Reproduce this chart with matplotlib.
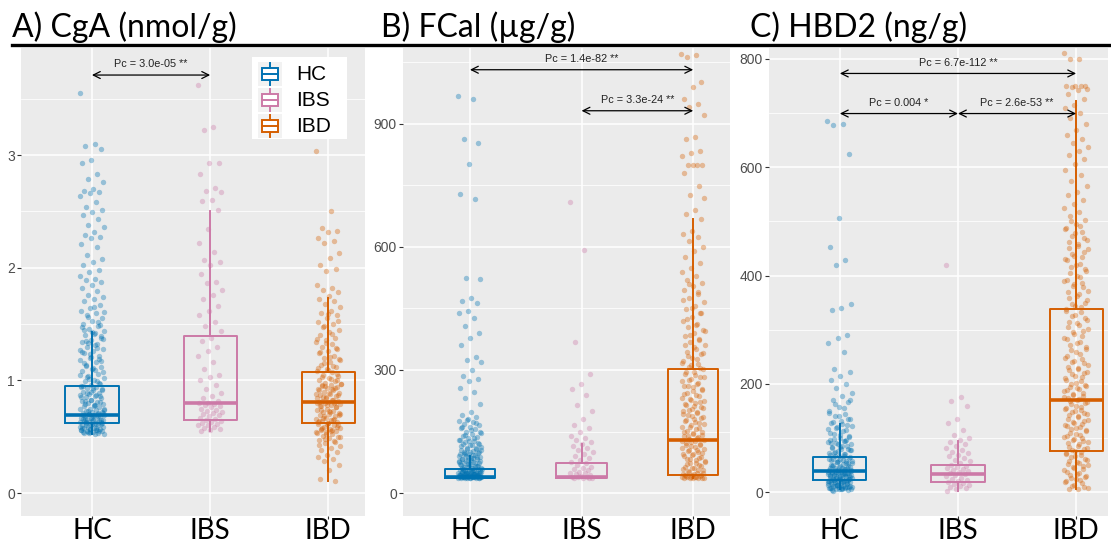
import numpy as np
import matplotlib
matplotlib.use("Agg")
import matplotlib.pyplot as plt
from matplotlib.patches import Rectangle
from matplotlib.lines import Line2D

groups = ["HC", "IBS", "IBD"]
colors = {"HC": "#0072B2", "IBS": "#CC79A7", "IBD": "#D55E00"}

# ---- A) CgA (nmol/g) ----
cga_hc = [3.55, 3.10, 3.08, 3.05, 2.96, 2.93, 2.83, 2.79, 2.76, 2.70, 2.68, 2.67, 2.66, 2.64,
          2.58, 2.54, 2.51, 2.49, 2.47, 2.43, 2.38, 2.36, 2.32, 2.29, 2.27, 2.26, 2.21, 2.18,
          2.11, 2.08, 2.05, 2.02, 1.98, 1.96, 1.93, 1.90, 1.89, 1.87, 1.85, 1.82, 1.79, 1.76,
          1.74, 1.72, 1.70, 1.67, 1.64, 1.62, 1.60, 1.58, 1.55, 1.53, 1.50, 1.48, 1.46, 1.44,
          1.42, 1.40, 1.38, 1.36, 1.34, 1.32, 1.30, 1.28, 1.26, 1.24, 1.22, 1.20, 1.18, 1.16,
          1.14, 1.12, 1.10, 1.08, 1.06, 1.04, 1.02, 1.00, 0.99, 0.97, 0.96, 0.95, 0.94, 0.93,
          0.92, 0.91, 0.90, 0.89, 0.88, 0.87, 0.86, 0.85, 0.84, 0.83, 0.82, 0.81, 0.80, 0.79,
          0.78, 0.77, 0.76, 0.75, 0.75, 0.74, 0.73, 0.72, 0.72, 0.71, 0.70, 0.70, 0.69, 0.69,
          0.68, 0.68, 0.67, 0.67, 0.66, 0.66, 0.65, 0.65, 0.64, 0.64, 0.63, 0.63, 0.62, 0.62,
          0.61, 0.61, 0.60, 0.60, 0.59, 0.59, 0.58, 0.58, 0.57, 0.57, 0.56, 0.56, 0.55, 0.55,
          0.54, 0.54, 0.53, 0.53, 0.52, 0.52, 0.66, 0.63, 0.60, 0.58, 0.56, 0.54, 0.71, 0.68,
          0.53, 0.55, 0.57, 0.59, 0.61, 0.63, 0.65, 0.67, 0.69, 0.71, 0.73, 0.75, 0.77, 0.79,
          0.81, 0.83, 0.85, 0.87, 0.89, 0.91, 0.93, 0.95, 0.98, 1.01, 1.05, 1.09, 1.13, 1.17,
          1.21, 1.25, 1.29, 1.33, 1.37, 1.41, 1.45, 1.49, 0.54, 0.56, 0.58, 0.60, 0.62, 0.64,
          0.66, 0.68, 0.70, 0.74, 0.78, 0.82, 0.86, 0.90, 0.94, 0.99, 1.03, 1.07, 1.11, 1.15,
          1.19, 1.23, 1.27, 1.31, 1.35, 1.39, 1.43, 1.47, 1.52, 1.56, 1.61, 1.65]
cga_ibs = [3.62, 3.25, 3.22, 2.93, 2.93, 2.83, 2.71, 2.68, 2.67, 2.60, 2.59, 2.51, 2.34, 2.22,
           2.14, 2.07, 2.05, 2.02, 1.94, 1.87, 1.86, 1.80, 1.76, 1.72, 1.66, 1.62, 1.58, 1.52,
           1.48, 1.44, 1.38, 1.35, 1.30, 1.26, 1.22, 1.16, 1.10, 1.05, 1.03, 1.00, 0.96, 0.92,
           0.89, 0.86, 0.84, 0.82, 0.80, 0.80, 0.79, 0.78, 0.77, 0.76, 0.75, 0.74, 0.73, 0.72,
           0.71, 0.70, 0.69, 0.68, 0.67, 0.66, 0.65, 0.64, 0.63, 0.62, 0.61, 0.60, 0.60, 0.59,
           0.58, 0.57, 0.56, 0.55]
cga_ibd = [3.04, 2.50, 2.35, 2.33, 2.32, 2.26, 2.24, 2.22, 2.13, 2.09, 2.02, 1.99, 1.97, 1.85,
           1.82, 1.80, 1.78, 1.75, 1.72, 1.70, 1.68, 1.65, 1.62, 1.60, 1.58, 1.55, 1.52, 1.50,
           1.48, 1.45, 1.43, 1.40, 1.38, 1.36, 1.34, 1.32, 1.30, 1.28, 1.26, 1.24, 1.22, 1.20,
           1.18, 1.16, 1.14, 1.12, 1.10, 1.08, 1.07, 1.05, 1.04, 1.02, 1.00, 0.99, 0.98, 0.97,
           0.96, 0.95, 0.94, 0.93, 0.92, 0.91, 0.90, 0.89, 0.88, 0.87, 0.86, 0.85, 0.84, 0.83,
           0.82, 0.82, 0.81, 0.81, 0.80, 0.80, 0.79, 0.78, 0.77, 0.76, 0.75, 0.74, 0.73, 0.72,
           0.71, 0.70, 0.69, 0.68, 0.67, 0.66, 0.65, 0.64, 0.63, 0.62, 0.61, 0.60, 0.59, 0.58,
           0.57, 0.56, 0.55, 0.54, 0.53, 0.52, 0.51, 0.50, 0.49, 0.47, 0.45, 0.44, 0.42, 0.40,
           0.38, 0.36, 0.34, 0.32, 0.30, 0.28, 0.25, 0.20, 0.12, 0.11,
           0.52, 0.54, 0.56, 0.58, 0.60, 0.62, 0.64, 0.66, 0.68, 0.70, 0.72, 0.74, 0.76, 0.78,
           0.80, 0.83, 0.85, 0.87, 0.89, 0.91, 0.93, 0.95, 0.97, 1.01, 1.03, 1.06, 1.09, 1.11,
           1.13, 1.15, 1.19, 1.21, 1.25, 1.29, 1.33, 1.37, 1.41, 1.47, 1.53, 1.59, 0.43, 0.46,
           0.48, 0.50, 0.55, 0.57, 0.59, 0.61, 0.63, 0.65, 0.67, 0.69, 0.73, 0.77, 0.81, 0.84,
           0.88, 0.92, 0.96, 1.00]
# box stats: whislo, q1, med, q3, whishi
cga_box = {"HC": [0.52, 0.62, 0.69, 0.95, 1.43],
           "IBS": [0.55, 0.65, 0.80, 1.39, 2.50],
           "IBD": [0.11, 0.62, 0.81, 1.07, 1.73]}

# ---- B) FCal (ug/g) ----
fcal_hc = [968, 961, 863, 853, 802, 729, 717, 524, 521, 476, 468, 463, 444, 440, 427, 407, 390,
           378, 361, 332, 324, 320, 300, 285, 278, 274, 256, 246, 231, 217, 198, 190, 185, 180,
           175, 172, 168, 165, 160, 158, 155, 150, 147, 144, 140, 136, 133, 130, 127, 124, 120,
           117, 114, 111, 108, 105, 102, 100, 98, 96, 94, 92, 90, 88, 86, 84, 82, 80, 78, 76,
           74, 72, 70, 68, 66, 64, 62, 60, 59, 58, 57, 56, 55, 54, 53, 52, 51, 50, 49, 48, 47,
           46, 45, 44, 43, 42, 41, 40, 40, 39, 39, 38, 38, 38, 37, 37, 37, 37, 37, 37, 38, 39,
           40, 41, 42, 44, 46, 48, 50, 55, 60, 65, 70, 75, 85, 95,
           37, 37, 38, 38, 39, 40, 41, 42, 43, 44, 45, 46, 47, 48, 50, 52, 54, 56, 58, 61, 63,
           67, 69, 71, 73, 77, 79, 81, 83, 87, 89, 91, 93, 97, 99, 101, 104, 107, 110, 113, 116,
           119, 122, 126, 129, 135, 142, 148, 153, 162, 170, 178, 37, 38, 39, 41, 43, 45, 47,
           49, 51, 53, 57]
fcal_ibs = [710, 593, 368, 290, 265, 253, 240, 215, 200, 180, 165, 158, 150, 140, 135, 130, 125,
            120, 115, 110, 105, 100, 95, 90, 85, 80, 76, 72, 68, 64, 60, 58, 55, 52, 50, 48, 46,
            44, 42, 40, 39, 38, 37, 37, 37, 37]
fcal_ibd = [1071, 1068, 1063, 1002, 990, 961, 948, 940, 922, 868, 863, 834, 828, 822, 800, 800,
            800, 800, 780, 748, 727, 720, 690, 680, 668, 640, 632, 625, 615, 600, 590, 575, 560,
            548, 540, 530, 520, 512, 505, 495, 485, 475, 465, 455, 448, 440, 430, 420, 412, 405,
            398, 390, 382, 375, 368, 360, 352, 345, 338, 330, 322, 315, 308, 302, 296, 290, 284,
            278, 272, 266, 260, 254, 248, 242, 236, 230, 225, 220, 215, 210, 205, 200, 195, 190,
            185, 180, 175, 170, 165, 160, 156, 152, 148, 144, 140, 136, 132, 129, 126, 122, 118,
            114, 110, 106, 102, 98, 94, 90, 86, 82, 78, 74, 70, 66, 62, 58, 55, 52, 49, 46, 44,
            42, 40, 39, 38, 38, 37, 37, 37, 37, 37, 37,
            40, 41, 43, 45, 47, 50, 53, 56, 60, 64, 68, 72, 76, 80, 84, 88, 92, 96, 100, 104,
            108, 112, 116, 120, 124, 128, 134, 138, 142, 146, 150, 158, 162, 168, 172, 178, 182,
            188, 192, 198, 202, 208, 212, 218, 222, 228, 232, 238, 245, 250, 258, 262, 268, 275,
            282, 288, 295, 305, 312, 318, 326, 335, 342, 355, 362, 372, 385, 395, 410, 425, 438,
            450, 470, 490, 510]
fcal_box = {"HC": [37, 37, 40, 59, 90],
            "IBS": [37, 37, 40, 73, 120],
            "IBD": [37, 44, 129, 302, 668]}

# ---- C) HBD2 (ng/g) ----
hbd2_hc = [686, 680, 677, 625, 507, 453, 428, 419, 348, 340, 336, 290, 284, 276, 258, 227, 222,
           214, 208, 199, 193, 184, 177, 171, 166, 157, 150, 145, 140, 136, 132, 128, 124, 120,
           116, 112, 108, 104, 100, 97, 94, 91, 88, 85, 82, 79, 76, 73, 70, 67, 64, 62, 60, 58,
           56, 54, 52, 50, 48, 46, 44, 42, 40, 39, 38, 37, 36, 35, 34, 33, 32, 31, 30, 29, 28,
           27, 26, 25, 24, 23, 22, 21, 20, 19, 18, 17, 16, 15, 14, 13, 12, 11, 10, 9, 8, 7, 6,
           5, 5, 4, 45, 41, 38, 35, 31, 28, 25, 22, 18, 14, 10, 7,
           3, 4, 6, 8, 9, 11, 12, 14, 15, 17, 18, 20, 21, 23, 24, 26, 27, 29, 30, 32, 33, 35, 36,
           38, 40, 42, 44, 46, 48, 50, 53, 55, 57, 59, 61, 63, 66, 68, 71, 74, 77, 80, 83, 86,
           89, 92, 95, 98, 102, 106, 110, 114, 118, 122, 126, 130, 135, 141, 147, 155, 162, 170,
           5, 7, 10, 13, 16, 19, 22, 25, 28, 31, 34, 37, 41, 45, 49, 54, 58, 62, 67, 72, 78, 84,
           90, 96]
hbd2_ibs = [420, 175, 168, 159, 135, 127, 114, 105, 100, 96, 92, 88, 85, 82, 78, 75, 72, 69, 66,
            63, 60, 57, 54, 51, 49, 47, 45, 43, 41, 39, 37, 35, 33, 31, 29, 27, 25, 23, 21, 19,
            17, 15, 13, 11, 9, 7, 5, 3]
hbd2_ibd = [811, 800, 800, 750, 750, 750, 750, 748, 745, 743, 735, 726, 715, 710, 700, 690, 680,
            668, 660, 652, 645, 638, 630, 622, 615, 605, 595, 585, 575, 565, 555, 548, 540, 532,
            525, 518, 510, 502, 495, 488, 480, 472, 465, 458, 450, 443, 436, 430, 422, 415, 408,
            400, 392, 386, 380, 372, 365, 358, 350, 344, 338, 332, 325, 318, 312, 305, 298, 292,
            285, 278, 272, 265, 258, 252, 245, 240, 235, 230, 225, 220, 215, 210, 205, 200, 196,
            192, 188, 184, 180, 176, 172, 168, 164, 160, 156, 152, 148, 144, 140, 136, 132, 128,
            124, 120, 116, 112, 108, 104, 100, 96, 92, 88, 84, 80, 76, 72, 68, 64, 60, 56, 52,
            48, 44, 40, 36, 32, 28, 24, 20, 16, 12, 8, 5,
            6, 10, 14, 18, 22, 26, 30, 34, 38, 42, 46, 50, 54, 58, 62, 66, 70, 74, 78, 82, 86,
            90, 94, 98, 102, 106, 110, 114, 118, 122, 126, 130, 134, 138, 142, 146, 150, 154,
            158, 162, 166, 170, 174, 178, 182, 186, 190, 194, 198, 202, 208, 212, 218, 222, 228,
            232, 238, 242, 248, 255, 262, 268, 275, 282, 288, 295, 302, 308, 315, 322, 328, 335,
            342, 348, 355, 362, 370, 378, 384, 390, 398, 405, 412, 420, 428, 435, 440, 448, 455,
            462, 470, 478, 485, 492, 500]
hbd2_box = {"HC": [5, 22, 39, 65, 125],
            "IBS": [3, 18, 33, 50, 94],
            "IBD": [5, 76, 171, 339, 723]}

panels = [
    {"title": "A) CgA (nmol/g)", "pts": {"HC": cga_hc, "IBS": cga_ibs, "IBD": cga_ibd},
     "box": cga_box, "ticks": [0, 1, 2, 3], "minor": [0.5, 1.5, 2.5, 3.5],
     "ylim": (-0.204, 3.95), "xmax": 3.31,
     "pvals": [(1, 2, 3.71, "Pc = 3.0e-05 **")]},
    {"title": "B) FCal (\u00b5g/g)", "pts": {"HC": fcal_hc, "IBS": fcal_ibs, "IBD": fcal_ibd},
     "box": fcal_box, "ticks": [0, 300, 600, 900], "minor": [150, 450, 750, 1050],
     "ylim": (-56, 1085), "xmax": 3.33,
     "pvals": [(1, 3, 1032, "Pc = 1.4e-82 **"), (2, 3, 932, "Pc = 3.3e-24 **")]},
    {"title": "C) HBD2 (ng/g)", "pts": {"HC": hbd2_hc, "IBS": hbd2_ibs, "IBD": hbd2_ibd},
     "box": hbd2_box, "ticks": [0, 200, 400, 600, 800], "minor": [100, 300, 500, 700],
     "ylim": (-44, 820), "xmax": 3.27,
     "pvals": [(1, 3, 773, "Pc = 6.7e-112 **"), (1, 2, 699, "Pc = 0.004 *"),
               (2, 3, 699, "Pc = 2.6e-53 **")]},
]

W, H = 1111, 546
fig = plt.figure(figsize=(W / 100, H / 100), dpi=100)

def fx(p):
    return p / W

def fy(p):
    return 1 - p / H

# pixel boxes of the three plotting areas (left, right)
areas = [(21, 365), (403, 730), (769, 1108)]
title_x = [12, 381, 750]
top, bottom = 48, 516

for k, pan in enumerate(panels):
    l, r = areas[k]
    ax = fig.add_axes([fx(l), fy(bottom), (r - l) / W, (bottom - top) / H])
    ax.set_facecolor("#EBEBEB")
    for s in ax.spines.values():
        s.set_visible(False)
    ax.set_xlim(0.4, pan["xmax"])
    ax.set_ylim(*pan["ylim"])
    ax.set_yticks(pan["ticks"])
    ax.set_yticks(pan["minor"], minor=True)
    ax.set_xticks([1, 2, 3])
    ax.set_xticklabels([])
    ax.tick_params(axis="y", which="major", labelsize=10, labelcolor="#4D4D4D",
                   color="#333333", length=3, width=0.8, pad=1.5)
    ax.tick_params(axis="y", which="minor", length=0)
    ax.tick_params(axis="x", length=2, color="#333333", width=0.8)
    for t in ax.get_yticklabels():
        t.set_family("Liberation Sans")
    ax.grid(True, which="major", color="white", lw=1.1, zorder=0)
    ax.grid(True, which="minor", axis="y", color="white", lw=0.55, zorder=0)
    ax.set_axisbelow(True)

    for i, g in enumerate(groups):
        vals = np.array(pan["pts"][g], dtype=float)
        n = len(vals)
        offs = ((np.arange(n) * 0.6180339887) % 1 - 0.5) * 0.21
        ax.scatter(i + 1 + offs, vals, s=15, color=colors[g], alpha=0.36, lw=0, zorder=2)
        wl, q1, md, q3, wh = pan["box"][g]
        st = [{"med": md, "q1": q1, "q3": q3, "whislo": wl, "whishi": wh, "fliers": []}]
        ax.bxp(st, positions=[i + 1], widths=0.45, showcaps=False, showfliers=False,
               boxprops=dict(color=colors[g], lw=1.4),
               whiskerprops=dict(color=colors[g], lw=1.4),
               medianprops=dict(color=colors[g], lw=2.6),
               manage_ticks=False, zorder=3)
        # category label under the panel, baseline placed in pixels
        ax.text(i + 1, 0, g, transform=ax.get_xaxis_transform(), ha="center",
                va="baseline", fontsize=20, family="Lato", color="black")

    yr = pan["ylim"][1] - pan["ylim"][0]
    for a, b, yv, txt in pan["pvals"]:
        ax.annotate("", xy=(b, yv), xytext=(a, yv),
                    arrowprops=dict(arrowstyle="<->,head_length=0.5,head_width=0.25",
                                    lw=0.9, color="black", shrinkA=0, shrinkB=0))
        ax.text((a + b) / 2, yv + yr * 0.012, txt, ha="center", va="bottom",
                fontsize=7.8, family="Liberation Sans", color="#222222")

    fig.text(fx(title_x[k]), fy(37), pan["title"], fontsize=23, family="Lato",
             ha="left", va="baseline", color="black")

# move the category labels to a fixed baseline below the panels
for ax in fig.axes:
    for t in ax.texts:
        if t.get_text() in groups:
            t.set_transform(fig.transFigure)
            x_disp = ax.transData.transform((t.get_position()[0], 0))[0]
            t.set_position((x_disp / W, fy(539)))

# rule under the titles
fig.add_artist(Line2D([fx(12), fx(1111)], [fy(45), fy(45)], color="black", lw=2.4))

# legend in panel A
fig.add_artist(Rectangle((fx(252), fy(139)), fx(95), 82 / H, transform=fig.transFigure,
                         facecolor="white", edgecolor="none"))
for j, g in enumerate(groups):
    cy = 74 + 26 * j
    fig.add_artist(Rectangle((fx(258), fy(cy + 12)), fx(24), 24 / H, transform=fig.transFigure,
                             facecolor="#F2F2F2", edgecolor="none"))
    fig.add_artist(Rectangle((fx(262), fy(cy + 6)), fx(16), 12 / H, transform=fig.transFigure,
                             facecolor="white", edgecolor=colors[g], lw=1.4))
    fig.add_artist(Line2D([fx(262), fx(278)], [fy(cy), fy(cy)], color=colors[g], lw=1.4))
    fig.add_artist(Line2D([fx(270), fx(270)], [fy(cy - 11), fy(cy - 6)], color=colors[g], lw=1.4))
    fig.add_artist(Line2D([fx(270), fx(270)], [fy(cy + 6), fy(cy + 11)], color=colors[g], lw=1.4))
    fig.text(fx(296), fy(cy), g, fontsize=15, family="Liberation Sans", ha="left",
             va="center", color="black")

fig.savefig("out.png", dpi=100)
